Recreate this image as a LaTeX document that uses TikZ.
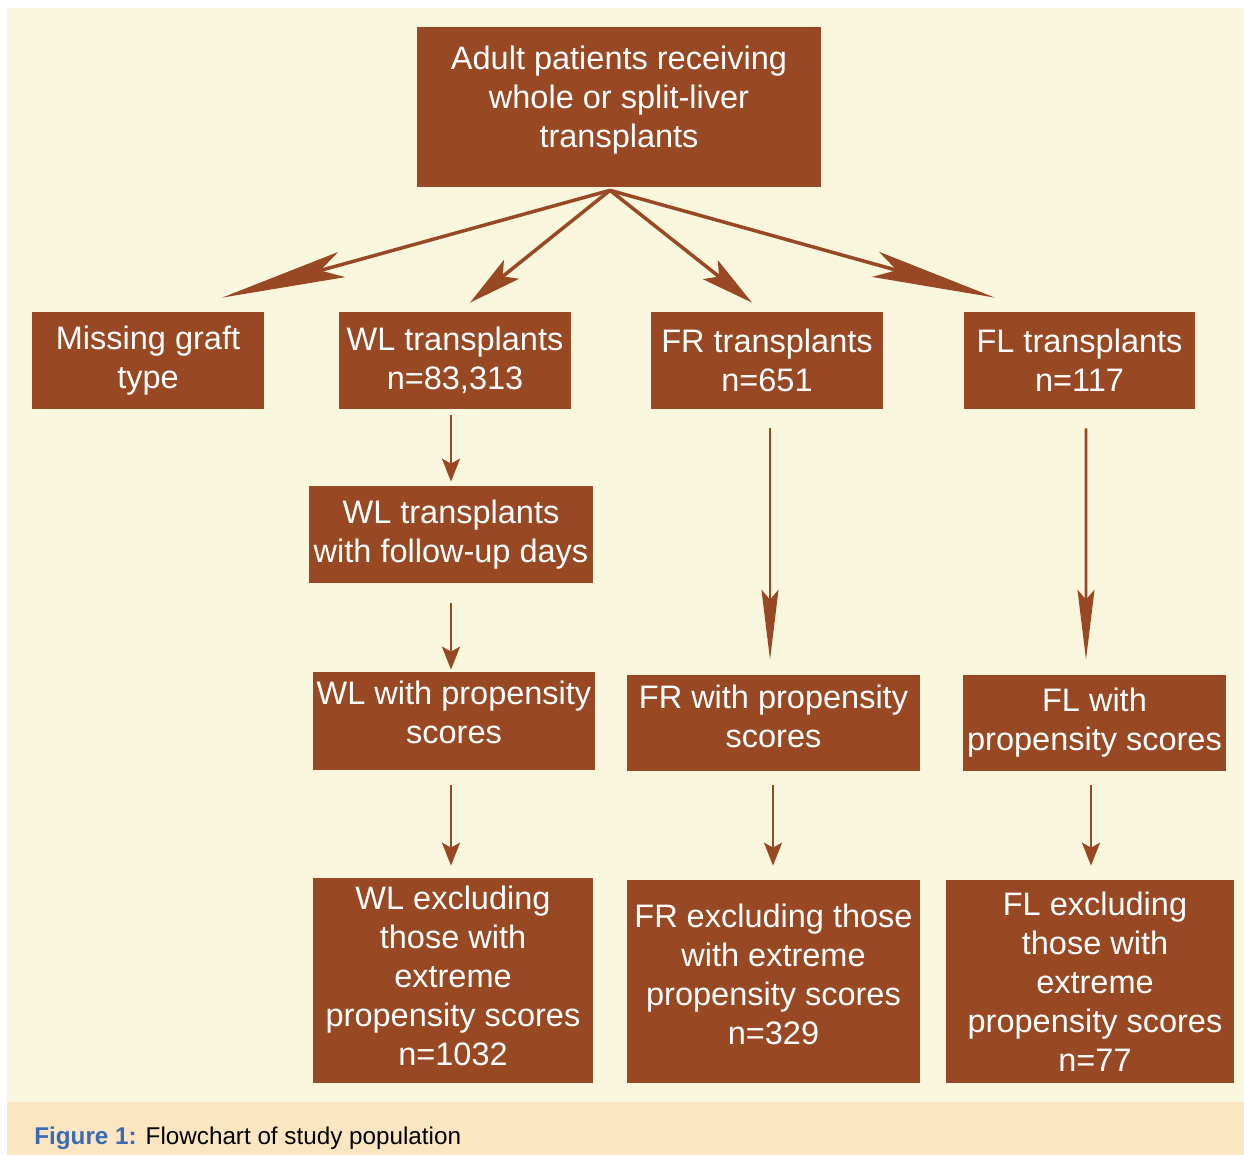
\documentclass[tikz,border=0pt]{standalone}
\usepackage{fontspec}
\setmainfont{Liberation Sans}
\usetikzlibrary{arrows.meta,calc}

\definecolor{boxbrown}{RGB}{152,73,35}
\definecolor{paper}{RGB}{248,247,222}
\definecolor{capband}{RGB}{252,230,193}
\definecolor{figblue}{RGB}{58,106,180}
\newcommand{\flowfont}{\fontsize{18.5}{22.2}\selectfont}
% extra depth under the last line, lifts the text inside its box
\newcommand{\padbelow}[1]{\rule[-#1]{0pt}{#1}}

\begin{document}
\begin{tikzpicture}[
    x=0.02cm, y=-0.02cm,
    box/.style={fill=boxbrown, text=white, align=center, inner sep=0pt,
                font=\flowfont},
    small/.style={box, minimum width=4.64cm, minimum height=1.94cm},
    fanlong/.style={-{Stealth[length=2.48cm, width=0.52cm, inset=0.44cm]},
                    draw=boxbrown, line width=0.07cm},
    fanshort/.style={-{Stealth[length=1.06cm, width=0.48cm, inset=0.22cm]},
                     draw=boxbrown, line width=0.07cm},
    arrlong/.style={-{Stealth[length=1.4cm, width=0.34cm, inset=0.2cm]},
                    draw=boxbrown, line width=0.055cm},
    arr/.style={-{Stealth[length=0.46cm, width=0.36cm, inset=0.1cm]},
                draw=boxbrown, line width=0.055cm}
  ]
    % page, background and caption band
    \useasboundingbox (0,0) rectangle (1244,1155);
    \fill[white] (0,0) rectangle (1244,1155);
    \fill[paper] (7,8) rectangle (1244,1102);
    \fill[capband] (7,1102) rectangle (1244,1155);
    \node[anchor=west, inner sep=0pt, font=\fontsize{13.8}{16}\selectfont] (caption) at (34,1138)
      {\textcolor{figblue}{\bfseries Figure 1:} Flowchart of study population};

    % boxes
    \node[box, minimum width=8.08cm, minimum height=3.2cm] (top) at (619,107)
      {Adult patients receiving\\whole or split-liver\\transplants\padbelow{0.42cm}};
    \node[small] (miss) at (148,360.5)    {Missing graft\\type};
    \node[small] (wl)   at (455,360.5)    {WL transplants\\n=83,313};
    \node[small] (fr)   at (767,360.5)    {FR transplants\\n=651};
    \node[small] (fl)   at (1079.5,360.5) {FL transplants\\n=117};

    \node[box, minimum width=5.68cm, minimum height=1.94cm] (wlfu) at (451,534.5)
      {WL transplants\\with follow-up days};

    \node[box, minimum width=5.64cm, minimum height=1.96cm] (wlps) at (454,721)
      {WL with propensity\\scores\padbelow{0.36cm}};
    \node[box, minimum width=5.86cm, minimum height=1.92cm] (frps) at (773.5,723)
      {FR with propensity\\scores\padbelow{0.28cm}};
    \node[box, minimum width=5.26cm, minimum height=1.92cm] (flps) at (1094.5,723)
      {FL with\\propensity scores};

    \node[box, minimum width=5.6cm, minimum height=4.1cm] (wlex) at (453,980.5)
      {WL excluding\\those with\\extreme\\propensity scores\\n=1032\padbelow{0.18cm}};
    \node[box, minimum width=5.86cm, minimum height=4.06cm] (frex) at (773.5,981.5)
      {FR excluding those\\with extreme\\propensity scores\\n=329\padbelow{0.28cm}};
    \node[box, minimum width=5.76cm, minimum height=4.06cm] (flex) at (1090,981.5)
      {\hspace*{0.2cm}FL excluding\\\hspace*{0.2cm}those with\\\hspace*{0.2cm}extreme\\
       \hspace*{0.2cm}propensity scores\\\hspace*{0.2cm}n=77};

    % fan out of the top box
    \coordinate (fork) at ($(top.south)+(-9,3)$);
    \coordinate (missin) at ($(miss.north)+(74,-14)$);
    \coordinate (wlin)   at ($(wl.north)+(15,-9)$);
    \coordinate (frin)   at ($(fr.north)+(-15,-9)$);
    \coordinate (flin)   at ($(fl.north)+(-84.5,-14)$);
    \draw[fanlong]  (fork) -- (missin);
    \draw[fanshort] (fork) -- (wlin);
    \draw[fanshort] (fork) -- (frin);
    \draw[fanlong]  (fork) -- (flin);

    % WL branch
    \draw[arr] ($(wl.south)+(-4,6)$) -- ($(wlfu.north)+(0,-4)$);
    \draw[arr] ($(wlfu.south)+(0,20)$) -- ($(wlps.north)+(-3,-2)$);
    \draw[arr] ($(wlps.south)+(-3,15)$) -- ($(wlex.north)+(-2,-12)$);

    % FR branch
    \draw[arrlong] ($(fr.south)+(3,19)$) -- ($(frps.north)+(-3.5,-15)$);
    \draw[arr] ($(frps.south)+(-0.5,14)$) -- ($(frex.north)+(-0.5,-14)$);

    % FL branch
    \draw[arrlong] ($(fl.south)+(6.5,19)$) -- ($(flps.north)+(-8.5,-15)$);
    \draw[arr] ($(flps.south)+(-3.5,14)$) -- ($(flex.north)+(1,-14)$);
  \end{tikzpicture}
\end{document}
